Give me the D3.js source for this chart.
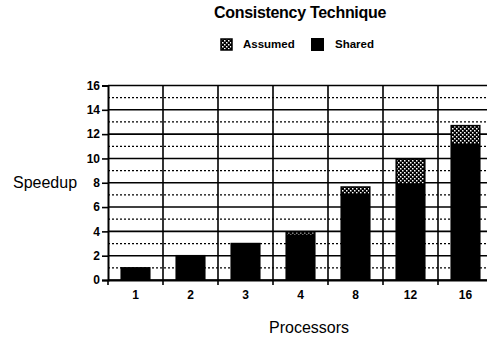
<!DOCTYPE html>
<html>
<head>
<meta charset="utf-8">
<script src="https://cdn.jsdelivr.net/npm/d3@7"></script>
<style>
  body { margin: 0; background: #fff; }
  text { font-family: "Liberation Sans", Arial, sans-serif; fill: #000; }
</style>
</head>
<body>
<div id="chart"></div>
<script>
// data
processors = ["1", "2", "3", "4", "8", "12", "16"]
shared = [1, 2, 3, 3.75, 7.1, 7.95, 11.2]
assumed = [1, 2, 3, 3.95, 7.65, 9.95, 12.7]
yTicks = [0, 2, 4, 6, 8, 10, 12, 14, 16]

W = 487, H = 340
svg = d3.select("#chart").append("svg")
  .attr("width", W).attr("height", H)

// dotted fill for the "Assumed" part
defs = svg.append("defs")
pat = defs.append("pattern")
  .attr("id", "dots")
  .attr("patternUnits", "userSpaceOnUse")
  .attr("width", 4).attr("height", 4)
pat.append("rect").attr("width", 4).attr("height", 4).attr("fill", "#000")
pat.append("rect").attr("x", 0).attr("y", 0).attr("width", 1.5).attr("height", 1.5).attr("fill", "#fff")
pat.append("rect").attr("x", 2).attr("y", 2).attr("width", 1.5).attr("height", 1.5).attr("fill", "#fff")

x = d3.scaleBand().domain(processors).range([108, 493]).padding(0)
y = d3.scaleLinear().domain([0, 16]).range([280, 85.5])

// horizontal grid: solid on even, dotted on odd
g = svg.append("g")
g.selectAll(".hmin")
  .data(d3.range(1, 16, 2))
  .join("line")
    .attr("x1", 108).attr("x2", 493)
    .attr("y1", d => y(d)).attr("y2", d => y(d))
    .attr("stroke", "#000").attr("stroke-width", 1.2)
    .attr("stroke-dasharray", "2,2")
g.selectAll(".hmaj")
  .data(yTicks)
  .join("line")
    .attr("x1", 108).attr("x2", 493)
    .attr("y1", d => y(d)).attr("y2", d => y(d))
    .attr("stroke", "#000").attr("stroke-width", 1.6)

// vertical grid at category boundaries
bounds = processors.map(p => x(p))
g.selectAll(".vg")
  .data(bounds.slice(1))
  .join("line")
    .attr("x1", d => d).attr("x2", d => d)
    .attr("y1", y(16)).attr("y2", y(0) + 5)
    .attr("stroke", "#000").attr("stroke-width", 1.6)

// bars
bw = x.bandwidth() * 0.52
bars = svg.append("g")
bars.selectAll(".a")
  .data(processors)
  .join("rect")
    .attr("x", d => x(d) + (x.bandwidth() - bw) / 2)
    .attr("y", (d, i) => y(assumed[i]))
    .attr("width", bw)
    .attr("height", (d, i) => y(0) - y(assumed[i]))
    .attr("fill", "url(#dots)")
bars.selectAll(".s")
  .data(processors)
  .join("rect")
    .attr("x", d => x(d) + (x.bandwidth() - bw) / 2)
    .attr("y", (d, i) => y(shared[i]))
    .attr("width", bw)
    .attr("height", (d, i) => y(0) - y(shared[i]))
    .attr("fill", "#000")
bars.selectAll(".o")
  .data(processors)
  .join("rect")
    .attr("x", d => x(d) + (x.bandwidth() - bw) / 2)
    .attr("y", (d, i) => y(assumed[i]))
    .attr("width", bw)
    .attr("height", (d, i) => y(0) - y(assumed[i]))
    .attr("fill", "none").attr("stroke", "#000").attr("stroke-width", 1.5)

// y axis
svg.append("g")
  .attr("transform", "translate(108,0)")
  .style("font-size", "12px").style("font-weight", "bold")
  .call(d3.axisLeft(y).tickValues(yTicks).tickSize(6).tickPadding(2))
  .call(a => a.select(".domain").attr("stroke-width", 2))
  .call(a => a.selectAll(".tick line").attr("stroke-width", 1.6))
  .call(a => a.selectAll("text").attr("font-family", "Liberation Sans, Arial, sans-serif"))

// x axis
svg.append("g")
  .attr("transform", `translate(0,${y(0)})`)
  .style("font-size", "12px").style("font-weight", "bold")
  .call(d3.axisBottom(x).tickSize(0).tickPadding(10))
  .call(a => a.select(".domain").attr("stroke-width", 2))
  .call(a => a.selectAll("text").attr("font-family", "Liberation Sans, Arial, sans-serif"))
svg.append("line")
  .attr("x1", 108).attr("x2", 108).attr("y1", y(0)).attr("y2", y(0) + 5)
  .attr("stroke", "#000").attr("stroke-width", 1.6)

// titles
svg.append("text").attr("x", 300).attr("y", 18)
  .attr("text-anchor", "middle").style("font-size", "16px")
  .style("font-weight", "bold").style("letter-spacing", "-0.3px")
  .text("Consistency Technique")
svg.append("text").attr("x", 13).attr("y", 188)
  .style("font-size", "16px").text("Speedup")
svg.append("text").attr("x", 309).attr("y", 333)
  .attr("text-anchor", "middle").style("font-size", "16px")
  .text("Processors")

// legend
leg = svg.append("g").style("font-size", "11.5px").style("font-weight", "bold")
leg.append("rect").attr("x", 221).attr("y", 39).attr("width", 11).attr("height", 11)
  .attr("fill", "url(#dots)").attr("stroke", "#000").attr("stroke-width", 1.5)
leg.append("text").attr("x", 243).attr("y", 48).text("Assumed")
leg.append("rect").attr("x", 311).attr("y", 38).attr("width", 13).attr("height", 13)
  .attr("fill", "#000")
leg.append("text").attr("x", 335).attr("y", 48).text("Shared")
</script>
</body>
</html>
